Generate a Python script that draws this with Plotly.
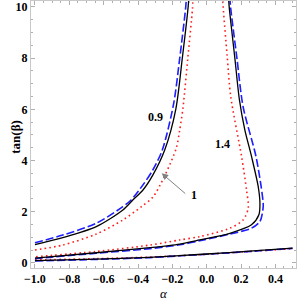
import plotly.graph_objects as go

# ---- data ----
# contour level 1 (black solid)
black_left_a = [-1.0, -0.838, -0.643, -0.488, -0.43, -0.371, -0.313, -0.244, -0.18, -0.142, -0.108, -0.104]
black_left_t = [0.72, 0.99, 1.42, 2.07, 2.46, 2.85, 3.44, 4.42, 6.0, 8.0, 10.0, 10.4]
black_right_a = [0.127, 0.131, 0.164, 0.19, 0.222, 0.261, 0.30, 0.31, 0.304, 0.261, 0.135, -0.04, -0.157, -0.33, -0.643, -1.0]
black_right_t = [10.4, 10.0, 8.0, 6.4, 5.2, 4.16, 2.98, 2.33, 1.88, 1.49, 1.16, 0.90, 0.74, 0.60, 0.40, 0.19]
black_bottom_a = [-1.0, -0.643, -0.33, -0.157, 0.0, 0.25, 0.5]
black_bottom_t = [0.09, 0.15, 0.22, 0.29, 0.35, 0.46, 0.58]

# contour level 0.9 (blue dashed)
blue_left_a = [-1.0, -0.838, -0.643, -0.488, -0.44, -0.371, -0.313, -0.258, -0.193, -0.157, -0.122, -0.118]
blue_left_t = [0.79, 1.09, 1.55, 2.2, 2.46, 3.05, 3.64, 4.42, 6.2, 8.0, 10.0, 10.4]
blue_right_a = [0.135, 0.139, 0.176, 0.212, 0.287, 0.325, 0.329, 0.31, 0.261, 0.135, -0.04, -0.157, -0.33, -0.643, -1.0]
blue_right_t = [10.4, 10.0, 8.0, 6.1, 4.16, 2.59, 2.2, 1.62, 1.36, 1.13, 0.87, 0.71, 0.56, 0.38, 0.17]
blue_bottom_a = [-1.0, -0.643, -0.33, -0.157, 0.0, 0.25, 0.5]
blue_bottom_t = [0.08, 0.14, 0.21, 0.28, 0.34, 0.45, 0.57]

# contour level 1.4 (red dotted)
red_left_a = [-1.0, -0.838, -0.643, -0.488, -0.38, -0.31, -0.18, -0.157, -0.138, -0.11, -0.083, -0.08]
red_left_t = [0.51, 0.70, 1.13, 1.68, 2.2, 2.6, 4.42, 5.2, 6.06, 8.0, 9.92, 10.4]
red_right_a = [0.093, 0.096, 0.119, 0.14, 0.203, 0.232, 0.242, 0.212, 0.135, -0.04, -0.157, -0.33, -0.643, -1.0]
red_right_t = [10.4, 10.0, 8.1, 6.5, 4.16, 2.85, 2.14, 1.68, 1.36, 1.03, 0.90, 0.70, 0.45, 0.24]
red_bottom_a = [-1.0, -0.643, -0.33, 0.0, 0.25, 0.5]
red_bottom_t = [0.12, 0.17, 0.23, 0.34, 0.45, 0.56]

x_ticks = [-1.0, -0.8, -0.6, -0.4, -0.2, 0.0, 0.2, 0.4]
y_ticks = [0, 2, 4, 6, 8, 10]

labels = [("0.9", -0.30, 5.69), ("1.4", 0.091, 4.65), ("1", -0.075, 2.66)]
arrow_tail = (-0.116, 2.66)
arrow_head = (-0.262, 3.5)

# ---- figure ----
fig = go.Figure()
styles = {
    "blue": dict(color="rgb(30,30,255)", width=1.6, dash="8px,3px"),
    "black": dict(color="black", width=1.3),
    "red": dict(color="rgb(255,30,30)", width=1.6, dash="1.6px,3.2px"),
}
series = [
    ("red", red_left_a, red_left_t), ("red", red_right_a, red_right_t), ("red", red_bottom_a, red_bottom_t),
    ("blue", blue_left_a, blue_left_t), ("blue", blue_right_a, blue_right_t), ("blue", blue_bottom_a, blue_bottom_t),
    ("black", black_left_a, black_left_t), ("black", black_right_a, black_right_t), ("black", black_bottom_a, black_bottom_t),
]
for c, xa, ya in series:
    ln = dict(styles[c])
    ln["shape"] = "spline"
    ln["smoothing"] = 0.8
    fig.add_trace(go.Scatter(x=xa, y=ya, mode="lines", line=ln, showlegend=False, hoverinfo="skip"))

tickfont = dict(family="Liberation Serif", size=12, color="black", weight="bold")
axcommon = dict(showline=True, linecolor="#c8c8c8", linewidth=1, mirror="ticks", ticks="inside",
                ticklen=4, tickcolor="#b0b0b0", tickwidth=1, showgrid=False, zeroline=False,
                tickfont=tickfont, automargin=False)
fig.update_xaxes(range=[-1.023, 0.52], tickvals=x_ticks, tickformat=".1f",
                 minor=dict(dtick=0.05, tick0=0, ticks="inside", ticklen=2, tickcolor="#b0b0b0"),
                 **axcommon)
fig.update_yaxes(range=[-0.196, 10.23], tickvals=y_ticks,
                 minor=dict(dtick=0.5, tick0=0, ticks="inside", ticklen=2, tickcolor="#b0b0b0"),
                 **axcommon)

for txt, xa, ya in labels:
    fig.add_annotation(x=xa, y=ya, text="<b>%s</b>" % txt, showarrow=False,
                       font=dict(family="Liberation Serif", size=12, color="black"))
fig.add_annotation(x=arrow_head[0], y=arrow_head[1], ax=arrow_tail[0], ay=arrow_tail[1],
                   axref="x", ayref="y", text="", showarrow=True, arrowhead=2, arrowsize=1.3,
                   arrowwidth=1, arrowcolor="#808080")
fig.add_annotation(x=0.5, y=-0.094, xref="paper", yref="paper", text="<i>α</i>", showarrow=False,
                   yanchor="middle", font=dict(family="Liberation Serif", size=13, color="black"))
fig.add_annotation(x=-0.094, y=0.49, xref="paper", yref="paper", text="<b>tan(β)</b>", textangle=-90,
                   showarrow=False, font=dict(family="Liberation Serif", size=13, color="black"))

fig.update_layout(width=299, height=301, margin=dict(l=31, r=3, t=1, b=33),
                  plot_bgcolor="white", paper_bgcolor="white")
fig.write_html("out.html", config={"displayModeBar": False, "staticPlot": True},
               post_script="document.body.style.margin='0';")
